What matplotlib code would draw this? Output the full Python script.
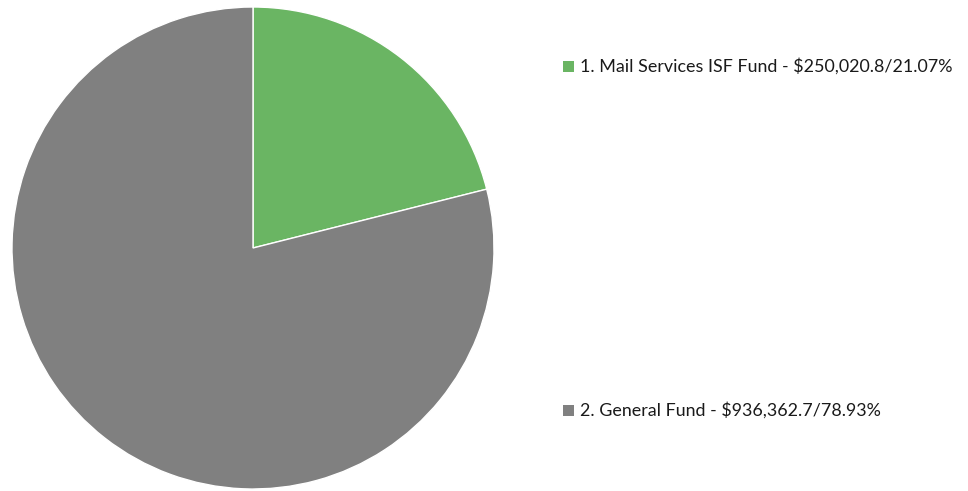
import matplotlib
matplotlib.use("Agg")
import matplotlib.pyplot as plt
from matplotlib.patches import Rectangle

labels = ["1. Mail Services ISF Fund", "2. General Fund"]
amounts = [250020.8, 936362.7]
percents = [21.07, 78.93]
colors = ["#6ab563", "#808080"]

W, H = 968, 491
fig = plt.figure(figsize=(W / 100, H / 100), dpi=100)

# pie centred at (253, 248) px with radius 241 px
cx, cy, r = 253, 248, 241
ax = fig.add_axes([(cx - r) / W, (H - cy - r) / H, 2 * r / W, 2 * r / H])
ax.pie(amounts, colors=colors, startangle=90, counterclock=False, radius=1,
       wedgeprops=dict(edgecolor="white", linewidth=1))
ax.set_xlim(-1, 1)
ax.set_ylim(-1, 1)
ax.set_aspect("auto")
ax.axis("off")

# legend entries, placed by hand
legend_y = [66, 410]
for lab, amt, pct, col, y in zip(labels, amounts, percents, colors, legend_y):
    fig.patches.append(Rectangle(((563) / W, (H - y - 6) / H), 11 / W, 11 / H,
                                 transform=fig.transFigure, facecolor=col,
                                 edgecolor="none"))
    fig.text(580 / W, (H - y) / H, f"{lab} - ${amt:,.1f}/{pct:.2f}%",
             fontsize=12.9, family="Lato", color="#1a1a1a", va="center", ha="left")

fig.savefig("out.png", dpi=100)
